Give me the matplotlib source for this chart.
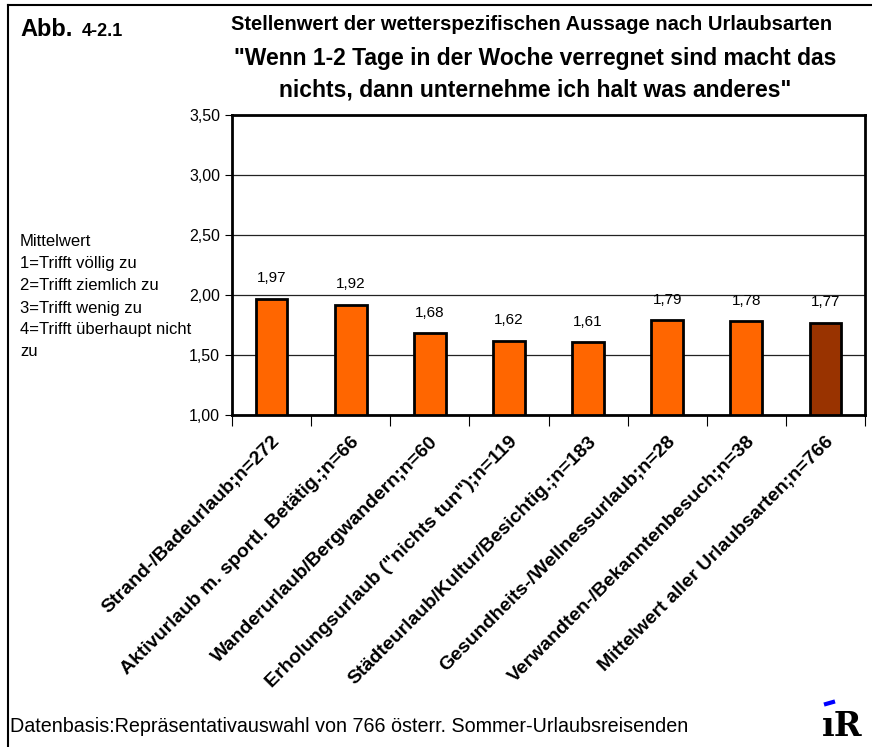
import matplotlib.pyplot as plt
import numpy as np
from matplotlib.ticker import FuncFormatter

plt.rcParams['font.family'] = ['Liberation Sans', 'DejaVu Sans']

# Data
# ----------------------------------------------------------------------------

categories = [
    'Strand-/Badeurlaub;n=272',
    'Aktivurlaub m. sportl. Betätig.;n=66',
    'Wanderurlaub/Bergwandern;n=60',
    'Erholungsurlaub ("nichts tun");n=119',
    'Städteurlaub/Kultur/Besichtig.;n=183',
    'Gesundheits-/Wellnessurlaub;n=28',
    'Verwandten-/Bekanntenbesuch;n=38',
    'Mittelwert aller Urlaubsarten;n=766',
]
values = [1.97, 1.92, 1.68, 1.62, 1.61, 1.79, 1.78, 1.77]
bar_colors = ['#FF6600'] * 7 + ['#993300']

yticks = [1.0, 1.5, 2.0, 2.5, 3.0, 3.5]

scale_lines = [
    'Mittelwert',
    '1=Trifft völlig zu',
    '2=Trifft ziemlich zu',
    '3=Trifft wenig zu',
    '4=Trifft überhaupt nicht',
    'zu',
]

# Plot
# ----------------------------------------------------------------------------

fig = plt.figure(figsize=(8.72, 7.47), dpi=100)
ax = fig.add_axes([232 / 872, 1 - 415 / 747, (865 - 232) / 872, 300 / 747])

x = np.arange(len(categories))
ax.bar(x, np.array(values) - 1.0, bottom=1.0, width=0.4,
       color=bar_colors, edgecolor='black', linewidth=2, zorder=3)
for xi, v in zip(x, values):
    ax.text(xi, v + 0.11, f'{v:.2f}'.replace('.', ','), ha='center',
            va='bottom', fontsize=11)

ax.set_xlim(-0.5, len(categories) - 0.5)
ax.set_ylim(1.0, 3.5)
ax.set_yticks(yticks)
ax.yaxis.set_major_formatter(FuncFormatter(lambda v, _: f'{v:.2f}'.replace('.', ',')))
ax.yaxis.grid(True, color='#222222', linewidth=0.9, zorder=0)
ax.tick_params(axis='y', labelsize=11.5, length=5, width=0.8, direction='out')
ax.set_xticks(np.arange(len(categories) + 1) - 0.5)
ax.set_xticklabels([])
ax.tick_params(axis='x', length=8, width=0.8, direction='out')
ax.set_xticks(x, minor=True)
ax.set_xticklabels(categories, minor=True, rotation=45, ha='right', va='top',
                   rotation_mode='anchor', fontsize=14, fontweight='bold')
ax.tick_params(axis='x', which='minor', length=0, pad=13)
for s in ax.spines.values():
    s.set_linewidth(2)

# Titles and texts
fig.text(20 / 872, 1 - 30 / 747, 'Abb.', fontsize=17, fontweight='bold', va='center')
fig.text(82 / 872, 1 - 32 / 747, '4-2.1', fontsize=13, fontweight='bold', va='center')
fig.text(532 / 872, 1 - 25 / 747,
         'Stellenwert der wetterspezifischen Aussage nach Urlaubsarten',
         fontsize=14.5, fontweight='bold', ha='center', va='center')
fig.text(535 / 872, 1 - 58 / 747,
         '"Wenn 1-2 Tage in der Woche verregnet sind macht das',
         fontsize=16.5, fontweight='bold', ha='center', va='center')
fig.text(535 / 872, 1 - 90 / 747,
         'nichts, dann unternehme ich halt was anderes"',
         fontsize=16.5, fontweight='bold', ha='center', va='center')

for i, line in enumerate(scale_lines):
    fig.text(20 / 872, 1 - (242 + 22 * i) / 747, line, fontsize=12, va='center')

fig.text(10 / 872, 1 - 727 / 747,
         'Datenbasis:Repräsentativauswahl von 766 österr. Sommer-Urlaubsreisenden',
         fontsize=14.2, va='center')

# ITR logo (approximation)
fig.text(822 / 872, 1 - 726 / 747, 'ıR', fontsize=24, fontweight='bold',
         va='center', ha='left', family='DejaVu Serif')
fig.add_artist(plt.Line2D([826 / 872, 833 / 872], [1 - 704 / 747, 1 - 702 / 747],
                          color='blue', linewidth=3))

# Outer frame (top and left)
fig.add_artist(plt.Line2D([8 / 872, 1.0], [1 - 5 / 747, 1 - 5 / 747], color='black', linewidth=1.5))
fig.add_artist(plt.Line2D([8 / 872, 8 / 872], [0, 1 - 5 / 747], color='black', linewidth=1.5))

fig.savefig('out.png', dpi=100)
